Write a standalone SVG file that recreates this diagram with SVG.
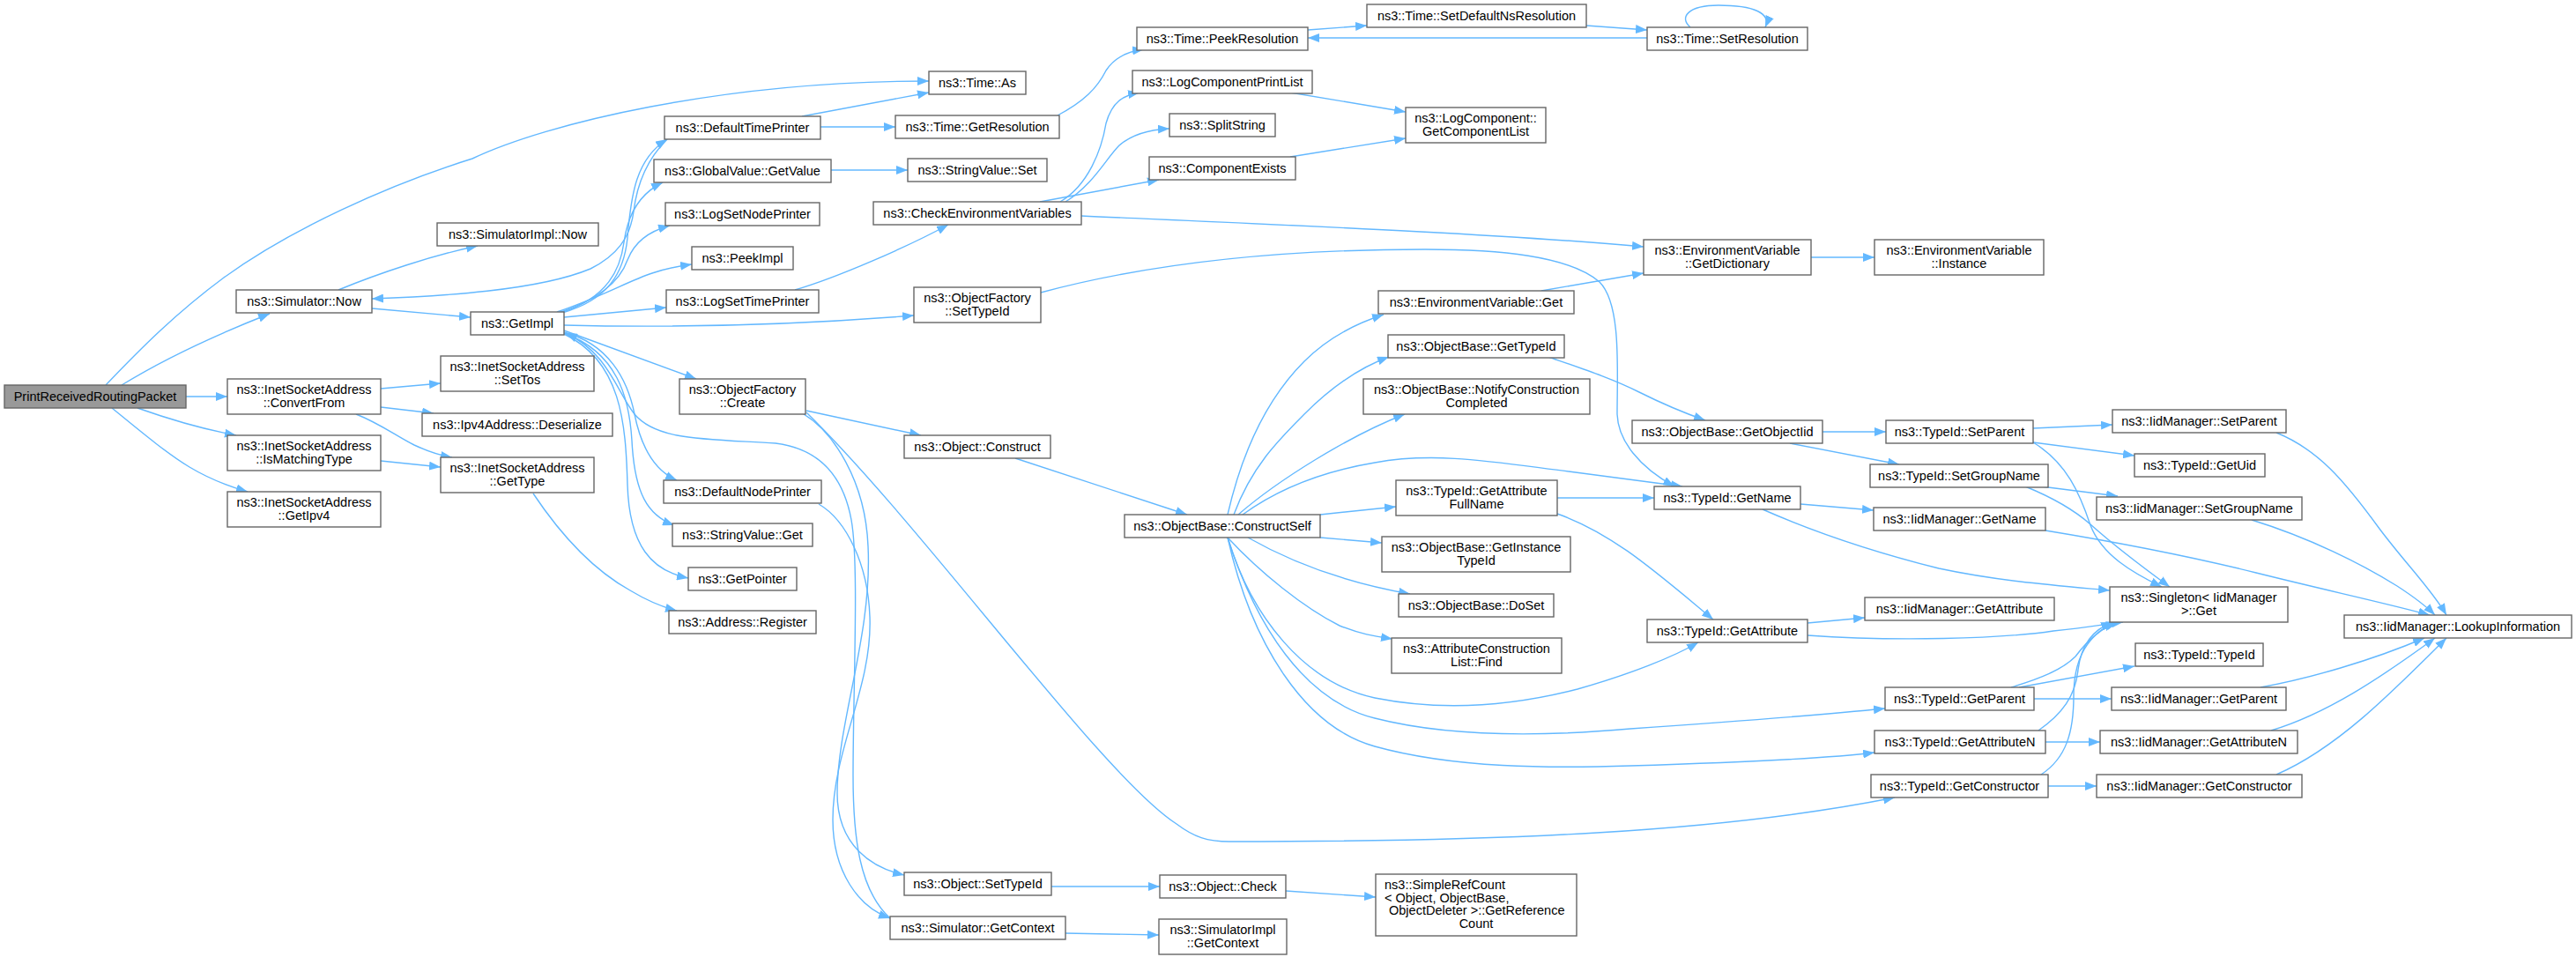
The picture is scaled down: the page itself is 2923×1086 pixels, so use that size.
<svg xmlns="http://www.w3.org/2000/svg" width="2923" height="1086" viewBox="0 0 2923 1086">
<style>
.node rect{fill:#ffffff;stroke:#666666;stroke-width:1.4}
.root rect{fill:#999999}
text{font-family:"Liberation Sans",Arial,sans-serif;font-size:14.5px;fill:#000000;text-anchor:middle}
text.l{text-anchor:start}
.edges path{fill:none;stroke:#63b8ff;stroke-width:1.4;marker-end:url(#arr)}
</style>
<defs>
<marker id="arr" markerUnits="userSpaceOnUse" viewBox="0 0 13 10" markerWidth="13" markerHeight="10" refX="13" refY="5" orient="auto">
<path d="M0,0 L13,5 L0,10 z" fill="#63b8ff"/>
</marker>
</defs>
<rect width="2923" height="1086" fill="#ffffff"/>
<g class="edges" id="edges">
<path d="M120,437 C160,395 200,355 254,315 C330,260 440,210 536,180 C620,140 820,92 1054,92"/>
<path d="M138,437 C190,405 250,378 306,356"/>
<path d="M211,450 L258,450"/>
<path d="M156,463 C190,475 230,487 268,494"/>
<path d="M127,463 C160,490 190,515 215,530 C240,545 260,552 281,558"/>
<path d="M384,329 C430,310 490,290 542,279"/>
<path d="M422,350 L534,360"/>
<path d="M757,158 C730,185 722,215 719,240 C715,270 700,290 670,305 C610,330 500,336 422,339"/>
<path d="M638,355 C690,340 708,310 712,270 C716,220 722,180 757,158"/>
<path d="M636,355 C690,338 704,305 708,275 C712,245 725,220 752,207"/>
<path d="M634,355 C685,338 705,315 712,295 C720,275 735,263 760,256"/>
<path d="M632,354 C680,338 715,318 740,310 C755,305 770,302 785,300"/>
<path d="M640,360 L756,349"/>
<path d="M640,369 C760,372 900,369 1037,358"/>
<path d="M640,375 L790,430"/>
<path d="M640,377 C690,390 712,430 720,470 C728,510 745,535 768,545"/>
<path d="M640,378 C700,400 714,450 717,500 C720,560 735,585 765,596"/>
<path d="M640,379 C705,410 710,480 712,550 C714,620 740,648 781,656"/>
<path d="M1010,1042 C975,1010 968,950 968,880 C968,780 975,640 966,590 C955,530 920,508 880,503 C800,498 745,500 720,470 C700,445 690,400 642,378"/>
<path d="M912,470 C945,490 982,545 985,620 C990,720 950,820 950,900 C950,960 990,985 1026,993"/>
<path d="M929,572 C960,590 985,640 987,700 C990,780 945,850 945,930 C945,990 975,1030 1010,1042"/>
<path d="M915,466 L1045,494"/>
<path d="M915,468 C1050,600 1250,880 1335,935 C1355,950 1370,955 1395,955 C1700,955 1950,945 2150,905"/>
<path d="M1152,520 L1347,584"/>
<path d="M432,441 L500,435"/>
<path d="M432,462 L492,469"/>
<path d="M404,470 C430,480 450,495 470,505 C485,512 500,517 513,519"/>
<path d="M432,523 L500,530"/>
<path d="M605,560 C635,605 670,645 715,670 C735,682 752,689 768,693"/>
<path d="M910,132 L1054,105"/>
<path d="M931,144 L1016,144"/>
<path d="M943,193 L1030,193"/>
<path d="M902,329 C950,315 1030,280 1076,255"/>
<path d="M1181,332 C1300,300 1450,283 1617,283 C1700,283 1780,290 1815,320 C1840,345 1835,420 1835,470 C1836,500 1860,530 1900,552"/>
<path d="M1200,131 C1230,115 1245,100 1255,80 C1265,65 1280,58 1298,56"/>
<path d="M1484,34 L1551,29"/>
<path d="M1800,29 L1869,34"/>
<path d="M1869,43 L1484,43"/>
<path d="M1918,31 C1905,20 1915,6 1950,6 C1990,6 2010,15 2003,31"/>
<path d="M1203,229 C1235,210 1250,170 1255,140 C1262,115 1275,108 1293,105"/>
<path d="M1209,229 C1240,210 1255,180 1270,165 C1285,152 1305,147 1327,146"/>
<path d="M1180,229 L1315,204"/>
<path d="M1464,105 L1595,127"/>
<path d="M1464,178 L1595,157"/>
<path d="M1227,245 C1450,255 1700,265 1865,280"/>
<path d="M1749,330 L1865,310"/>
<path d="M2055,292 L2127,292"/>
<path d="M1393,584 C1410,510 1440,450 1480,410 C1510,380 1545,365 1570,357"/>
<path d="M1400,584 C1420,530 1450,500 1480,470 C1510,440 1540,418 1576,405"/>
<path d="M1405,584 C1450,545 1530,495 1594,470"/>
<path d="M1410,584 C1450,555 1500,535 1560,525 C1630,512 1700,525 1780,535 C1840,543 1880,548 1909,552"/>
<path d="M1498,584 L1584,575"/>
<path d="M1498,610 L1568,616"/>
<path d="M1416,610 C1460,635 1520,660 1600,674"/>
<path d="M1393,610 C1430,650 1480,690 1520,710 C1545,720 1560,722 1580,725"/>
<path d="M1393,610 C1420,700 1480,775 1560,792 C1640,808 1720,800 1790,782 C1850,765 1900,745 1927,729"/>
<path d="M1393,610 C1425,710 1480,795 1560,815 C1650,838 1760,835 1850,827 C1980,818 2080,810 2139,804"/>
<path d="M1393,610 C1420,730 1480,825 1560,847 C1650,872 1760,872 1850,869 C1980,865 2080,860 2127,854"/>
<path d="M1767,565 L1877,565"/>
<path d="M1767,583 C1830,605 1880,650 1944,703"/>
<path d="M1757,405 C1800,420 1830,430 1860,445 C1890,460 1915,470 1935,477"/>
<path d="M2068,490 L2140,490"/>
<path d="M2031,503 L2155,527"/>
<path d="M2307,486 L2397,482"/>
<path d="M2307,502 L2422,517"/>
<path d="M2307,502 C2345,525 2360,560 2372,596 C2385,630 2420,650 2453,666"/>
<path d="M2316,552 L2403,563"/>
<path d="M2298,552 C2330,565 2355,580 2372,595 C2400,620 2440,650 2462,666"/>
<path d="M2043,572 L2126,579"/>
<path d="M2000,578 C2050,600 2120,625 2200,645 C2270,660 2340,665 2394,670"/>
<path d="M2321,602 C2400,615 2480,630 2560,650 C2640,670 2710,685 2757,698"/>
<path d="M2583,491 C2630,510 2660,545 2700,600 C2730,640 2760,670 2776,698"/>
<path d="M2555,590 C2620,610 2680,640 2720,665 C2740,678 2755,690 2763,698"/>
<path d="M2051,707 L2116,701"/>
<path d="M2051,721 C2150,728 2270,725 2330,716 C2370,712 2390,708 2409,706"/>
<path d="M2291,780 L2422,756"/>
<path d="M2308,793 L2396,793"/>
<path d="M2282,780 C2315,770 2340,760 2355,745 C2370,725 2385,712 2403,706"/>
<path d="M2321,842 L2383,842"/>
<path d="M2313,829 C2340,810 2355,790 2358,760 C2362,730 2375,715 2397,706"/>
<path d="M2324,892 L2379,892"/>
<path d="M2316,879 C2345,860 2353,830 2353,790 C2353,745 2370,720 2400,706"/>
<path d="M2565,780 C2620,770 2690,750 2751,724"/>
<path d="M2577,829 C2640,810 2700,770 2763,724"/>
<path d="M2583,879 C2650,850 2710,790 2776,724"/>
<path d="M1193,1006 L1316,1006"/>
<path d="M1459,1011 L1561,1018"/>
<path d="M1209,1059 L1315,1061"/>
</g>
<g id="n0" class="node root"><rect x="5" y="437" width="206" height="26"/><text x="108" y="455">PrintReceivedRoutingPacket</text></g>
<g id="n1" class="node"><rect x="268" y="329" width="154" height="26"/><text x="345" y="347">ns3::Simulator::Now</text></g>
<g id="n2" class="node"><rect x="496" y="253" width="183" height="26"/><text x="587.5" y="271">ns3::SimulatorImpl::Now</text></g>
<g id="n3" class="node"><rect x="534" y="354" width="106" height="26"/><text x="587" y="372">ns3::GetImpl</text></g>
<g id="n4" class="node"><rect x="258" y="430" width="174" height="40"/><text x="345" y="447">ns3::InetSocketAddress</text><text x="345" y="462">::ConvertFrom</text></g>
<g id="n5" class="node"><rect x="258" y="494" width="174" height="40"/><text x="345" y="511">ns3::InetSocketAddress</text><text x="345" y="526">::IsMatchingType</text></g>
<g id="n6" class="node"><rect x="258" y="558" width="174" height="40"/><text x="345" y="575">ns3::InetSocketAddress</text><text x="345" y="590">::GetIpv4</text></g>
<g id="n7" class="node"><rect x="500" y="404" width="174" height="40"/><text x="587" y="421">ns3::InetSocketAddress</text><text x="587" y="436">::SetTos</text></g>
<g id="n8" class="node"><rect x="479" y="469" width="216" height="26"/><text x="587" y="487">ns3::Ipv4Address::Deserialize</text></g>
<g id="n9" class="node"><rect x="500" y="519" width="174" height="40"/><text x="587" y="536">ns3::InetSocketAddress</text><text x="587" y="551">::GetType</text></g>
<g id="n10" class="node"><rect x="1054" y="81" width="110" height="26"/><text x="1109" y="99">ns3::Time::As</text></g>
<g id="n11" class="node"><rect x="754" y="132" width="177" height="26"/><text x="842.5" y="150">ns3::DefaultTimePrinter</text></g>
<g id="n12" class="node"><rect x="1016" y="131" width="186" height="26"/><text x="1109" y="149">ns3::Time::GetResolution</text></g>
<g id="n13" class="node"><rect x="742" y="181" width="201" height="26"/><text x="842.5" y="199">ns3::GlobalValue::GetValue</text></g>
<g id="n14" class="node"><rect x="1030" y="180" width="158" height="26"/><text x="1109" y="198">ns3::StringValue::Set</text></g>
<g id="n15" class="node"><rect x="755" y="230" width="175" height="26"/><text x="842.5" y="248">ns3::LogSetNodePrinter</text></g>
<g id="n16" class="node"><rect x="991" y="229" width="236" height="26"/><text x="1109" y="247">ns3::CheckEnvironmentVariables</text></g>
<g id="n17" class="node"><rect x="785" y="280" width="115" height="26"/><text x="842.5" y="298">ns3::PeekImpl</text></g>
<g id="n18" class="node"><rect x="756" y="329" width="173" height="26"/><text x="842.5" y="347">ns3::LogSetTimePrinter</text></g>
<g id="n19" class="node"><rect x="1037" y="326" width="144" height="40"/><text x="1109" y="343">ns3::ObjectFactory</text><text x="1109" y="358">::SetTypeId</text></g>
<g id="n20" class="node"><rect x="771" y="430" width="143" height="40"/><text x="842.5" y="447">ns3::ObjectFactory</text><text x="842.5" y="462">::Create</text></g>
<g id="n21" class="node"><rect x="1026" y="494" width="166" height="26"/><text x="1109" y="512">ns3::Object::Construct</text></g>
<g id="n22" class="node"><rect x="753" y="545" width="179" height="26"/><text x="842.5" y="563">ns3::DefaultNodePrinter</text></g>
<g id="n23" class="node"><rect x="763" y="594" width="159" height="26"/><text x="842.5" y="612">ns3::StringValue::Get</text></g>
<g id="n24" class="node"><rect x="781" y="644" width="123" height="26"/><text x="842.5" y="662">ns3::GetPointer</text></g>
<g id="n25" class="node"><rect x="759" y="693" width="167" height="26"/><text x="842.5" y="711">ns3::Address::Register</text></g>
<g id="n26" class="node"><rect x="1026" y="990" width="167" height="26"/><text x="1109.5" y="1008">ns3::Object::SetTypeId</text></g>
<g id="n27" class="node"><rect x="1010" y="1040" width="199" height="26"/><text x="1109.5" y="1058">ns3::Simulator::GetContext</text></g>
<g id="n28" class="node"><rect x="1290" y="31" width="194" height="26"/><text x="1387" y="49">ns3::Time::PeekResolution</text></g>
<g id="n29" class="node"><rect x="1551" y="5" width="249" height="26"/><text x="1675.5" y="23">ns3::Time::SetDefaultNsResolution</text></g>
<g id="n30" class="node"><rect x="1869" y="31" width="182" height="26"/><text x="1960" y="49">ns3::Time::SetResolution</text></g>
<g id="n31" class="node"><rect x="1285" y="80" width="204" height="26"/><text x="1387" y="98">ns3::LogComponentPrintList</text></g>
<g id="n32" class="node"><rect x="1327" y="129" width="120" height="26"/><text x="1387" y="147">ns3::SplitString</text></g>
<g id="n33" class="node"><rect x="1595" y="122" width="159" height="40"/><text x="1674.5" y="139">ns3::LogComponent::</text><text x="1674.5" y="154">GetComponentList</text></g>
<g id="n34" class="node"><rect x="1304" y="178" width="166" height="26"/><text x="1387" y="196">ns3::ComponentExists</text></g>
<g id="n35" class="node"><rect x="1865" y="272" width="190" height="40"/><text x="1960" y="289">ns3::EnvironmentVariable</text><text x="1960" y="304">::GetDictionary</text></g>
<g id="n36" class="node"><rect x="2127" y="272" width="192" height="40"/><text x="2223" y="289">ns3::EnvironmentVariable</text><text x="2223" y="304">::Instance</text></g>
<g id="n37" class="node"><rect x="1564" y="330" width="222" height="26"/><text x="1675" y="348">ns3::EnvironmentVariable::Get</text></g>
<g id="n38" class="node"><rect x="1575" y="380" width="200" height="26"/><text x="1675" y="398">ns3::ObjectBase::GetTypeId</text></g>
<g id="n39" class="node"><rect x="1547" y="430" width="257" height="40"/><text x="1675.5" y="447">ns3::ObjectBase::NotifyConstruction</text><text x="1675.5" y="462">Completed</text></g>
<g id="n40" class="node"><rect x="1852" y="477" width="216" height="26"/><text x="1960" y="495">ns3::ObjectBase::GetObjectIid</text></g>
<g id="n41" class="node"><rect x="1276" y="584" width="222" height="26"/><text x="1387" y="602">ns3::ObjectBase::ConstructSelf</text></g>
<g id="n42" class="node"><rect x="1584" y="545" width="183" height="40"/><text x="1675.5" y="562">ns3::TypeId::GetAttribute</text><text x="1675.5" y="577">FullName</text></g>
<g id="n43" class="node"><rect x="1568" y="609" width="214" height="40"/><text x="1675" y="626">ns3::ObjectBase::GetInstance</text><text x="1675" y="641">TypeId</text></g>
<g id="n44" class="node"><rect x="1587" y="674" width="176" height="26"/><text x="1675" y="692">ns3::ObjectBase::DoSet</text></g>
<g id="n45" class="node"><rect x="1579" y="724" width="193" height="40"/><text x="1675.5" y="741">ns3::AttributeConstruction</text><text x="1675.5" y="756">List::Find</text></g>
<g id="n46" class="node"><rect x="1877" y="552" width="166" height="26"/><text x="1960" y="570">ns3::TypeId::GetName</text></g>
<g id="n47" class="node"><rect x="1869" y="703" width="182" height="26"/><text x="1960" y="721">ns3::TypeId::GetAttribute</text></g>
<g id="n48" class="node"><rect x="1316" y="993" width="143" height="26"/><text x="1387.5" y="1011">ns3::Object::Check</text></g>
<g id="n49" class="node"><rect x="1561" y="992" width="228" height="70"/><text class="l" x="1571" y="1009">ns3::SimpleRefCount</text><text class="l" x="1571" y="1024">&lt; Object, ObjectBase,</text><text class="l" x="1576" y="1038">ObjectDeleter &gt;::GetReference</text><text x="1675" y="1053">Count</text></g>
<g id="n50" class="node"><rect x="1315" y="1043" width="145" height="40"/><text x="1387.5" y="1060">ns3::SimulatorImpl</text><text x="1387.5" y="1075">::GetContext</text></g>
<g id="n51" class="node"><rect x="2140" y="477" width="167" height="26"/><text x="2223.5" y="495">ns3::TypeId::SetParent</text></g>
<g id="n52" class="node"><rect x="2397" y="465" width="197" height="26"/><text x="2495.5" y="483">ns3::IidManager::SetParent</text></g>
<g id="n53" class="node"><rect x="2422" y="515" width="148" height="26"/><text x="2496" y="533">ns3::TypeId::GetUid</text></g>
<g id="n54" class="node"><rect x="2122" y="527" width="202" height="26"/><text x="2223" y="545">ns3::TypeId::SetGroupName</text></g>
<g id="n55" class="node"><rect x="2126" y="576" width="195" height="26"/><text x="2223.5" y="594">ns3::IidManager::GetName</text></g>
<g id="n56" class="node"><rect x="2379" y="564" width="233" height="26"/><text x="2495.5" y="582">ns3::IidManager::SetGroupName</text></g>
<g id="n57" class="node"><rect x="2394" y="666" width="202" height="40"/><text x="2495" y="683">ns3::Singleton&lt; IidManager</text><text x="2495" y="698">&gt;::Get</text></g>
<g id="n58" class="node"><rect x="2116" y="678" width="215" height="26"/><text x="2223.5" y="696">ns3::IidManager::GetAttribute</text></g>
<g id="n59" class="node"><rect x="2660" y="698" width="258" height="26"/><text x="2789" y="716">ns3::IidManager::LookupInformation</text></g>
<g id="n60" class="node"><rect x="2423" y="730" width="145" height="26"/><text x="2495.5" y="748">ns3::TypeId::TypeId</text></g>
<g id="n61" class="node"><rect x="2139" y="780" width="169" height="26"/><text x="2223.5" y="798">ns3::TypeId::GetParent</text></g>
<g id="n62" class="node"><rect x="2396" y="780" width="198" height="26"/><text x="2495" y="798">ns3::IidManager::GetParent</text></g>
<g id="n63" class="node"><rect x="2127" y="829" width="194" height="26"/><text x="2224" y="847">ns3::TypeId::GetAttributeN</text></g>
<g id="n64" class="node"><rect x="2383" y="829" width="224" height="26"/><text x="2495" y="847">ns3::IidManager::GetAttributeN</text></g>
<g id="n65" class="node"><rect x="2123" y="879" width="201" height="26"/><text x="2223.5" y="897">ns3::TypeId::GetConstructor</text></g>
<g id="n66" class="node"><rect x="2379" y="879" width="233" height="26"/><text x="2495.5" y="897">ns3::IidManager::GetConstructor</text></g>
</svg>
